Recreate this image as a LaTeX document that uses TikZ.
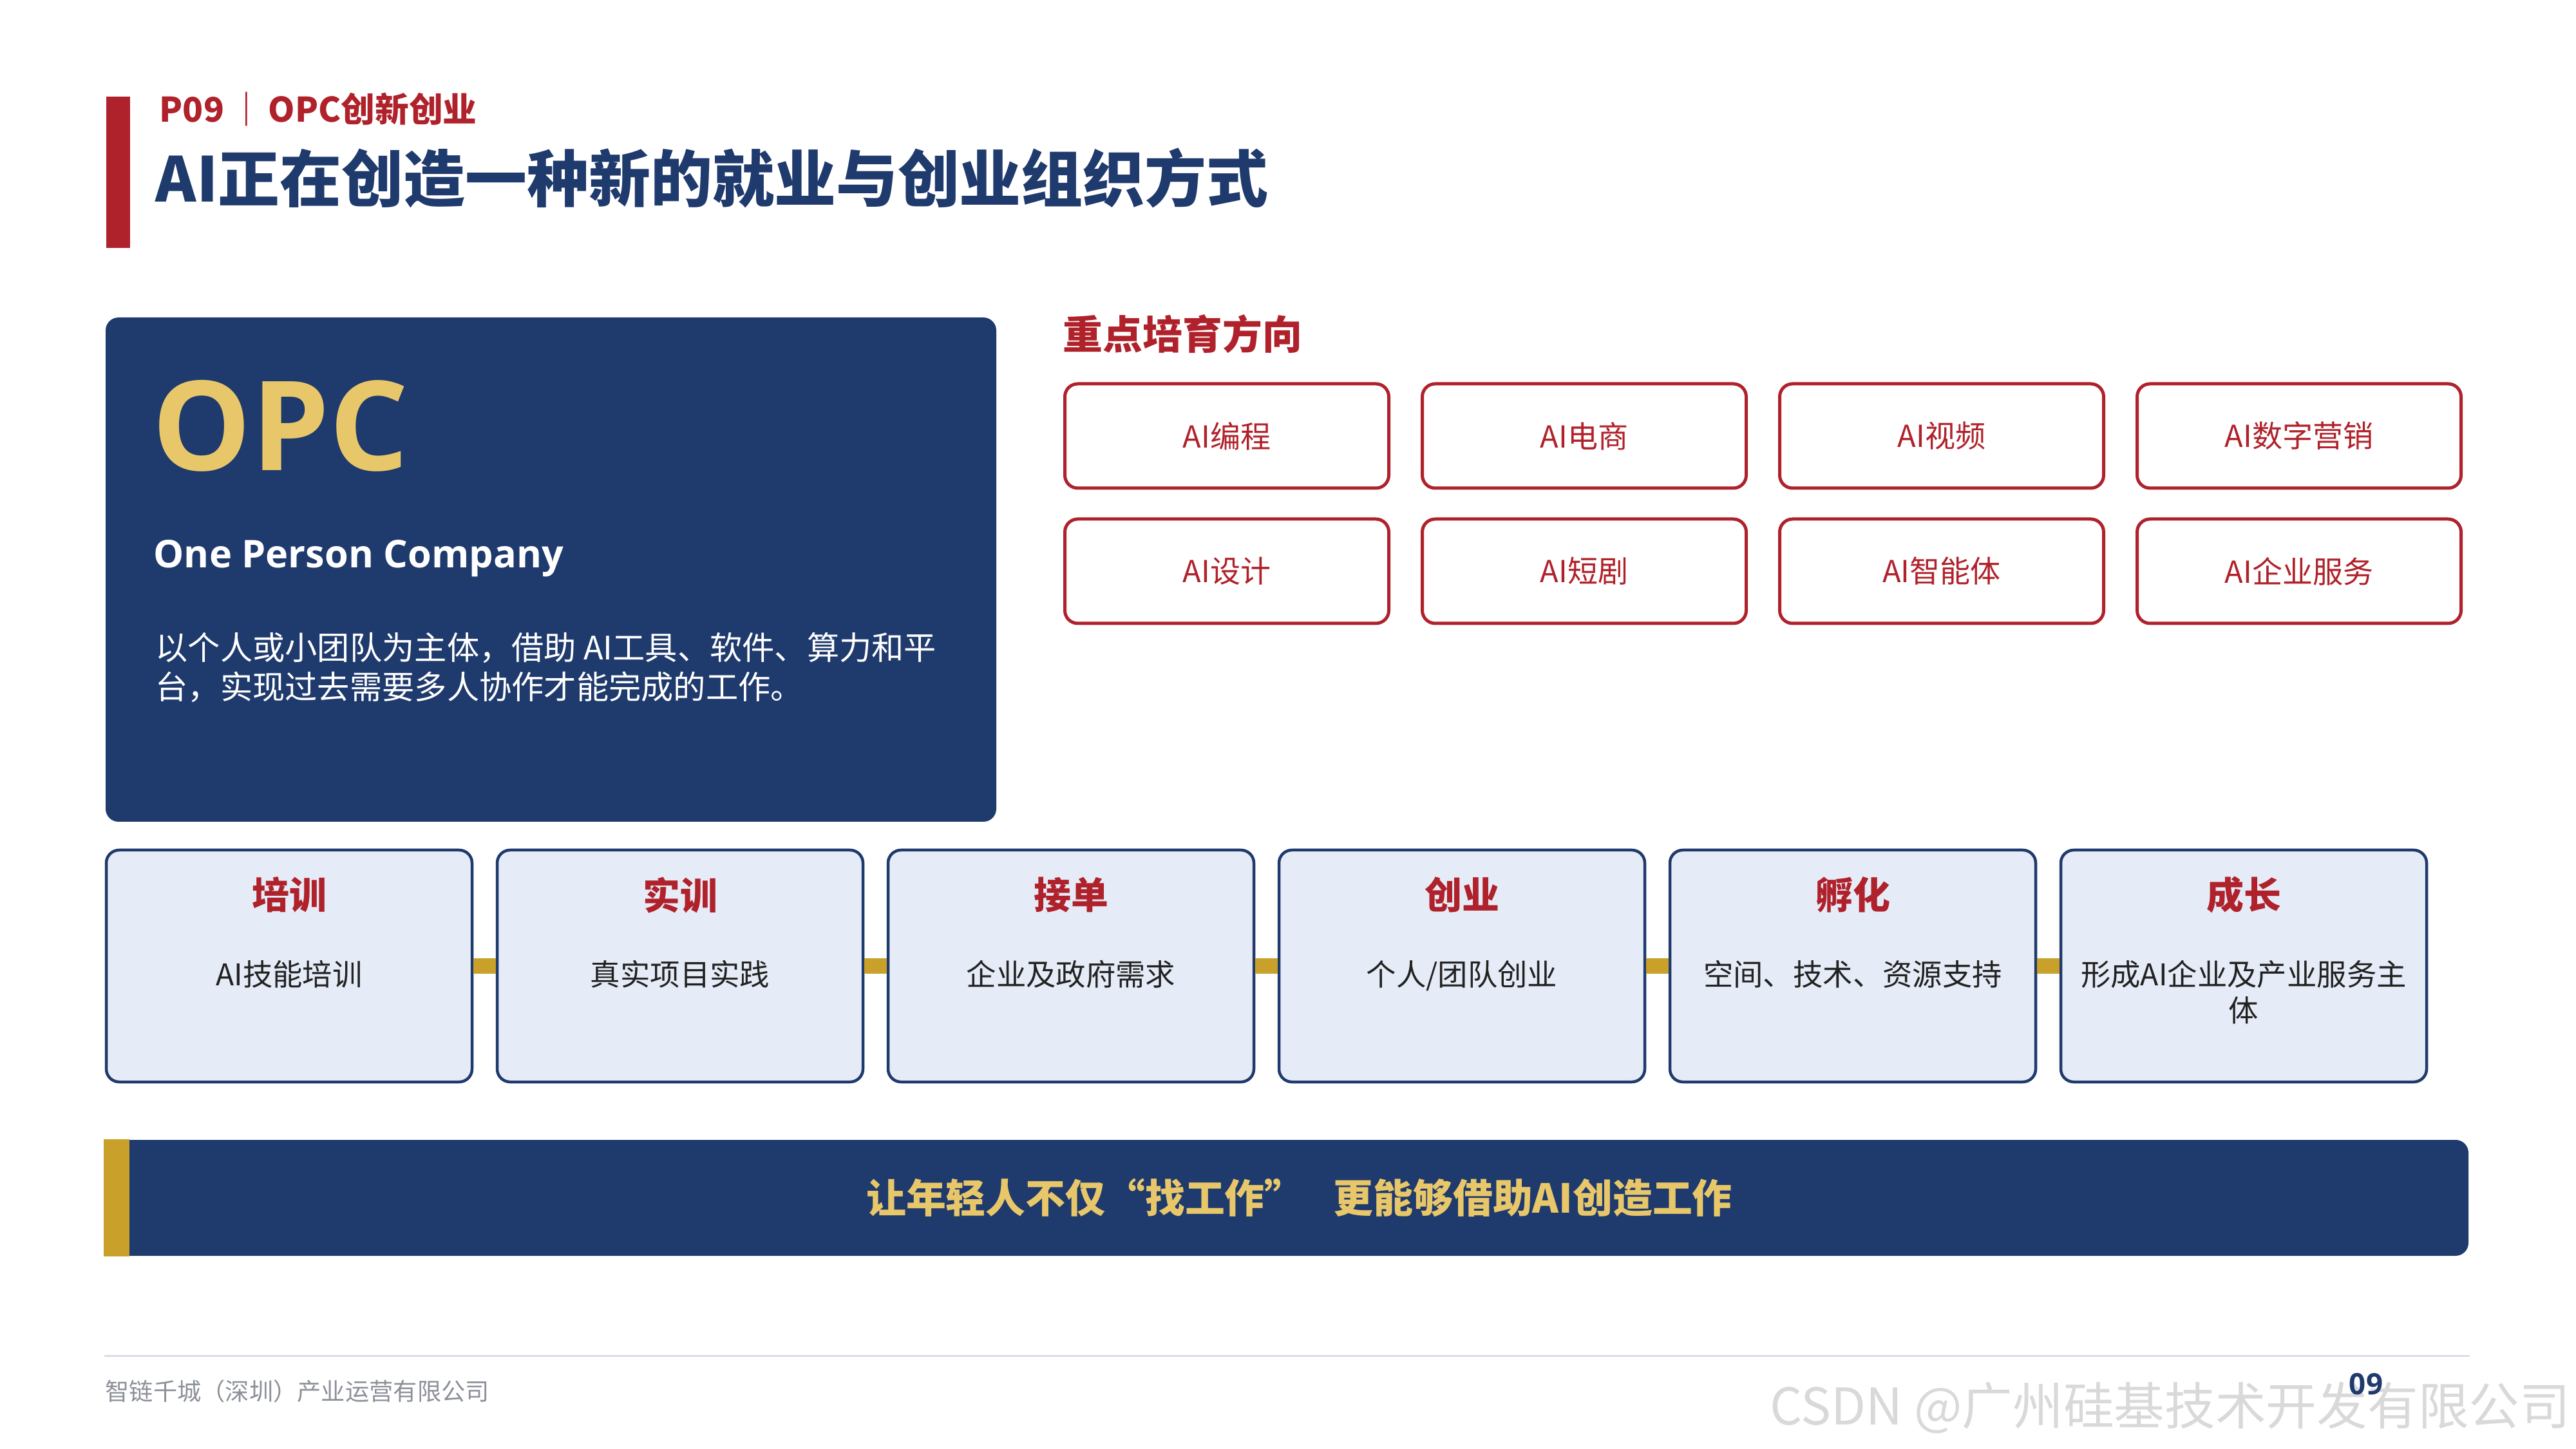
\documentclass[tikz,border=0pt]{standalone}
\usepackage{fontspec}
\setmainfont{Noto Sans CJK SC}
\newfontfamily\latinfont{Open Sans}
\definecolor{navy}{HTML}{1F3A6C}
\definecolor{brandred}{HTML}{B0222B}
\definecolor{gold}{HTML}{E8C76A}
\definecolor{goldbar}{HTML}{C9A12A}
\definecolor{paleblue}{HTML}{E6ECF7}
\definecolor{inkgray}{HTML}{222222}
\definecolor{footgray}{HTML}{8C9099}
\definecolor{rulegray}{HTML}{D8DEE9}
\tikzset{
	tagbox/.style={draw=brandred, line width=0.05cm, rounded corners=0.2cm, minimum width=5.03cm, minimum height=1.62cm, inner sep=0, text=brandred, font=\fontsize{13.4}{16}\selectfont},
	stepbox/.style={draw=navy, fill=paleblue, line width=0.045cm, rounded corners=0.2cm, minimum width=5.68cm, minimum height=3.6cm, inner sep=0},
	steptitle/.style={inner sep=0, text=brandred, font=\fontsize{16.5}{20}\selectfont\bfseries},
	stepnote/.style={anchor=north, inner sep=0, align=center, text=inkgray, font=\fontsize{13.2}{15.9}\selectfont},
	link/.style={draw=goldbar, line width=0.24cm},
}
\begin{document}
\begin{tikzpicture}
		\useasboundingbox (0,0) rectangle (40,-22.5);
		\fill[brandred] (1.65,-1.50) rectangle (2.02,-3.85);
		\node[anchor=west, inner sep=0, text=brandred, font=\fontsize{15}{18}\selectfont\bfseries] (pagetag) at (2.47,-1.69) {P09\hspace{0.08cm}｜\hspace{0.08cm}OPC创新创业};
		\node[anchor=west, inner sep=0, text=navy, font=\fontsize{27.3}{32}\selectfont\bfseries] (headline) at (2.41,-2.76) {AI正在创造一种新的就业与创业组织方式};
		\node[fill=navy, rounded corners=0.2cm, minimum width=13.83cm, minimum height=7.83cm, inner sep=0] (opcbox) at (8.555,-8.845) {};
		\node[anchor=base west, inner sep=0, text=gold, font=\latinfont\fontsize{55}{60}\selectfont\bfseries] (opc) at (2.36,-7.31) {OPC};
		\node[anchor=base west, inner sep=0, text=white, font=\latinfont\fontsize{16.9}{20}\selectfont\bfseries] (opcname) at (2.38,-8.82) {One Person Company};
		\node[anchor=north west, inner sep=0, align=left, text=white, font=\fontsize{14.3}{17.4}\selectfont] (opcdesc) at (2.41,-9.81) {以个人或小团队为主体，借助 AI工具、软件、算力和平\\台，实现过去需要多人协作才能完成的工作。};
		\node[anchor=west, inner sep=0, text=brandred, font=\fontsize{17.6}{21}\selectfont\bfseries] (focus) at (16.50,-5.19) {重点培育方向};
		\foreach \lbl [count=\i from 0] in {AI编程,AI电商,AI视频,AI数字营销,AI设计,AI短剧,AI智能体,AI企业服务} {
			\pgfmathtruncatemacro\col{mod(\i,4)}
			\pgfmathtruncatemacro\row{div(\i,4)}
			\node[tagbox] (tag\i) at (19.05+5.55*\col,-6.77-2.10*\row) {\lbl};
		}
		\foreach \ttl/\note [count=\i] in {培训/AI技能培训,实训/真实项目实践,接单/企业及政府需求,创业/{个人/团队创业},孵化/空间、技术、资源支持,成长/{形成AI企业及产业服务主\\体}} {
			\node[stepbox] (step\i) at (4.49+6.07*\i-6.07,-15.00) {};
			\node[steptitle] (steptitle\i) at ([yshift=-0.72cm]step\i.north) {\ttl};
			\node[stepnote] (stepnote\i) at ([yshift=-1.73cm]step\i.north) {\note};
		}
		\foreach \i [evaluate=\i as \j using int(\i+1)] in {1,...,5} { \draw[link] (step\i.east) -- (step\j.west); }
		\node[fill=navy, rounded corners=0.2cm, minimum width=36.71cm, minimum height=1.80cm, inner sep=0] (slogan) at (19.975,-18.60) {};
		\fill[goldbar] (slogan.north west) rectangle ([xshift=0.40cm]slogan.south west);
		\node[inner sep=0, text=gold, font=\fontsize{17.6}{21}\selectfont\bfseries] (slogantext) at ([xshift=0.2cm]slogan.center) {让年轻人不仅“找工作”\hspace{0.45cm}更能够借助AI创造工作};
		\draw[rulegray, line width=0.03cm] (1.62,-21.05) -- (38.35,-21.05);
		\node[anchor=west, inner sep=0, text=footgray, font=\fontsize{10.6}{12}\selectfont] (company) at (1.63,-21.60) {智链千城（深圳）产业运营有限公司};
		\node[anchor=east, inner sep=0, text=black!15, font=\fontsize{22.4}{26}\selectfont] (watermark) at (39.92,-21.86) {CSDN @广州硅基技术开发有限公司};
		\node[inner sep=0, text=navy, font=\latinfont\fontsize{13}{15}\selectfont\bfseries] (pageno) at (36.74,-21.49) {09};
\end{tikzpicture}
\end{document}
